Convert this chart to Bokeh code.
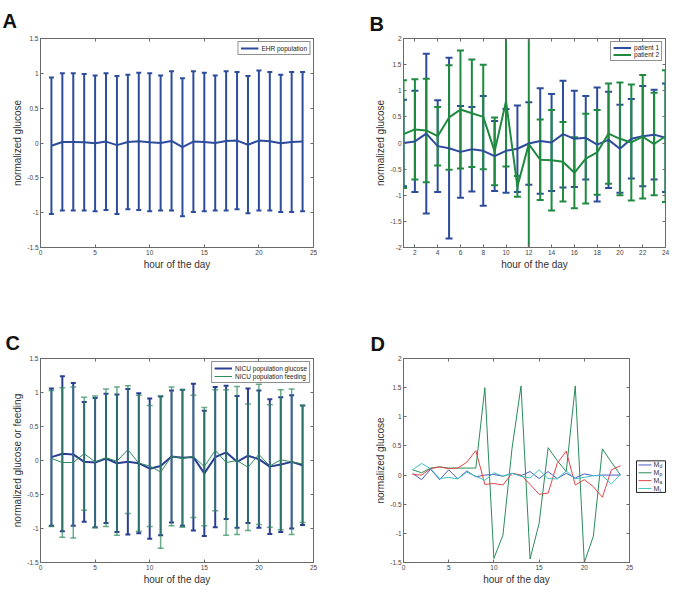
import numpy as np
from bokeh.plotting import figure
from bokeh.models import (Range1d, FixedTicker, LinearAxis, NumeralTickFormatter,
                          ColumnDataSource, CustomLabelingPolicy)
from bokeh.layouts import row, column
from bokeh.embed import file_html
from bokeh.resources import INLINE
from bokeh.core.properties import value

# ---------------- data ----------------
hours = list(range(1, 25))

# Panel A: EHR population (mean +/- error)
ehr_mean = [-0.04, 0.015, 0.015, 0.01, -0.005, 0.02, -0.03, 0.015, 0.025, 0.01, 0.0, 0.03,
            -0.06, 0.02, 0.015, 0.0, 0.03, 0.035, -0.025, 0.035, 0.025, -0.005, 0.015, 0.02]
ehr_err = [0.98, 0.985, 0.985, 0.98, 0.975, 0.98, 0.99, 0.965, 0.985, 0.99, 0.97, 1.0,
           0.99, 1.01, 0.995, 0.97, 1.0, 0.985, 0.985, 1.005, 0.995, 0.985, 1.005, 1.0]

# Panel B: two patients
p1_mean = [0.0, 0.03, 0.18, -0.06, -0.10, -0.17, -0.12, -0.15, -0.25, -0.15, -0.11, -0.01,
           0.04, 0.01, 0.17, 0.08, 0.10, -0.03, 0.06, -0.11, 0.08, 0.13, 0.16, 0.10]
p1_err = [0.83, 0.97, 1.53, 0.88, 1.73, 0.88, 0.81, 1.05, 0.67, 0.80, 0.83, 0.79,
          1.01, 0.93, 1.02, 0.92, 0.80, 1.09, 0.92, 0.84, 0.76, 0.96, 0.86, 1.04]
p2_mean = [0.17, 0.26, 0.24, 0.13, 0.49, 0.64, 0.57, 0.50, -0.16, 0.80, -0.83, -0.02,
           -0.32, -0.33, -0.36, -0.57, -0.30, -0.18, 0.18, 0.08, 0.01, 0.12, -0.02, 0.13]
p2_err = [1.03, 0.96, 0.99, 0.56, 1.00, 1.13, 1.03, 1.00, 0.65, 1.25, 0.20, 2.60,
          0.77, 0.96, 0.76, 0.68, 0.86, 0.81, 0.96, 1.08, 1.11, 1.18, 0.98, 1.26]

# Panel C: NICU population glucose / feeding
glu_mean = [0.05, 0.10, 0.09, -0.02, -0.03, 0.03, -0.04, -0.02, -0.04, -0.12, -0.08, 0.06,
            0.04, 0.05, -0.19, 0.05, 0.12, -0.02, 0.07, 0.02, -0.09, -0.06, -0.02, -0.07]
glu_err = [1.01, 1.14, 1.05, 0.88, 0.95, 0.95, 1.01, 1.07, 1.03, 1.03, 1.02, 0.97,
           1.00, 1.08, 0.92, 1.03, 0.98, 0.97, 0.99, 1.01, 0.99, 0.99, 0.98, 0.88]
feed_mean = [0.03, -0.03, -0.03, 0.10, -0.02, 0.04, -0.01, 0.16, -0.04, -0.08, -0.17, 0.06,
             0.03, 0.06, -0.09, 0.15, -0.03, 0.0, -0.10, 0.09, -0.08, 0.01, -0.02, -0.05]
feed_err = [1.00, 1.10, 1.11, 0.83, 0.97, 1.01, 1.09, 0.94, 1.00, 0.89, 1.12, 1.02,
            1.01, 0.90, 0.87, 0.89, 1.07, 1.09, 0.93, 1.03, 0.90, 1.03, 1.07, 0.86]

# Panel D: model components
m_d = [0.03, -0.08, 0.10, -0.08, 0.09, -0.065, 0.07, -0.03, 0.0, 0.01, -0.02, 0.03,
       -0.01, 0.06, -0.06, 0.06, -0.06, 0.03, -0.05, 0.02, -0.01, 0.0, 0.0, 0.0]
m_p = [0.09, 0.04, 0.12, 0.14, 0.12, 0.12, 0.12, 0.12, 1.50, -1.43, -1.03, 0.45,
       1.53, -1.44, -0.83, 0.47, 0.25, 0.06, 1.53, -1.50, -1.05, 0.45, 0.22, 0.0]
m_a = [0.01, 0.0, 0.11, 0.14, 0.11, 0.12, 0.22, 0.42, -0.16, -0.145, -0.17, 0.03,
       0.0, -0.16, -0.33, -0.31, 0.20, 0.41, -0.17, -0.08, -0.20, -0.38, 0.09, 0.16]
m_t = [0.09, 0.20, 0.11, -0.06, -0.04, -0.065, 0.05, -0.02, -0.09, 0.04, -0.02, 0.03,
       -0.02, -0.05, 0.09, -0.06, -0.065, 0.07, -0.065, -0.04, -0.01, -0.01, -0.155, 0.015]
d_subscripts = ["d", "p", "a", "t"]

ticks_0_25 = [0, 5, 10, 15, 20, 25]
ticks_even = [2, 4, 6, 8, 10, 12, 14, 16, 18, 20, 22, 24]
yt_15 = [-1.5, -1, -0.5, 0, 0.5, 1, 1.5]
yt_2 = [-2, -1.5, -1, -0.5, 0, 0.5, 1, 1.5, 2]
yt_d = [-1.5, -1, -0.5, 0, 0.5, 1, 1.5, 2]

# ---------------- style ----------------
FONT = "Liberation Sans"
AX = "#6a6a6a"
TXT = "#333333"
BLUE = "#2d4c9c"
GREEN = "#1f8a40"
C_GLU = "#2b3f92"
C_FEED = "#2f8a5c"
D_COLORS = ["#4c5cc4", "#2a8c5a", "#e04646", "#3fc2c2"]

HIDE = "return new Set()"


def style_axis(ax, labels=True):
    ax.axis_line_color = AX
    ax.major_tick_line_color = AX
    ax.major_tick_in = 3
    ax.major_tick_out = 0
    ax.minor_tick_line_color = None
    ax.major_label_text_font = FONT
    ax.major_label_text_color = "#444444"
    ax.axis_label_text_font = FONT
    ax.axis_label_text_font_size = "10px"
    ax.axis_label_text_font_style = "normal"
    ax.axis_label_text_color = TXT
    ax.axis_label_standoff = 1
    if labels:
        ax.major_label_text_font_size = "6.5px"
        ax.major_label_standoff = 2
    else:
        ax.major_label_text_font_size = "1px"
        ax.major_label_standoff = 0
        ax.major_label_policy = CustomLabelingPolicy(code=HIDE)


def make_fig(width, height, xr, yr, xticks, yticks, borders, letter, off, standoff,
             xlabel, ylabel):
    bl, br, bt, bb = borders
    p = figure(width=width, height=height, x_range=Range1d(*xr), y_range=Range1d(*yr),
               output_backend="svg", toolbar_location=None,
               min_border_left=bl, min_border_right=br, min_border_top=bt,
               min_border_bottom=bb)
    p.grid.visible = False
    p.outline_line_color = AX
    p.title.text = letter
    p.title.text_font = FONT
    p.title.text_font_size = "20px"
    p.title.text_font_style = "bold"
    p.title.text_color = "#111111"
    p.title.align = "left"
    p.title.offset = off
    p.title.standoff = standoff
    fmt = NumeralTickFormatter(format="0.[0]")
    p.xaxis.ticker = FixedTicker(ticks=xticks)
    p.yaxis.ticker = FixedTicker(ticks=yticks)
    p.xaxis.formatter = fmt
    p.yaxis.formatter = fmt
    p.xaxis.axis_label = xlabel
    p.yaxis.axis_label = ylabel
    style_axis(p.xaxis[0])
    style_axis(p.yaxis[0])
    ra = LinearAxis(ticker=FixedTicker(ticks=yticks))
    style_axis(ra, labels=False)
    p.add_layout(ra, "right")
    ta = LinearAxis(ticker=FixedTicker(ticks=xticks))
    style_axis(ta, labels=False)
    p.add_layout(ta, "above")
    return p


def errbars(p, x, mean, err, color, lw, cap, alpha=1.0):
    mean = np.asarray(mean)
    err = np.asarray(err)
    src = ColumnDataSource(dict(x=x, lo=mean - err, hi=mean + err))
    p.segment(x0="x", y0="lo", x1="x", y1="hi", source=src, line_color=color,
              line_width=lw, line_alpha=alpha)
    for col in ("hi", "lo"):
        p.scatter(x="x", y=col, marker="dash", size=cap, line_color=color,
                  line_width=lw, line_alpha=alpha, source=src)


def style_legend(p, fs="6.5px", gh=8):
    lg = p.legend[0]
    lg.location = "top_right"
    lg.label_text_font = FONT
    lg.label_text_font_size = fs
    lg.label_text_color = "#222222"
    lg.glyph_width = 18
    lg.glyph_height = gh
    lg.label_height = gh
    lg.label_standoff = 3
    lg.padding = 2
    lg.spacing = 0
    lg.margin = 3
    lg.border_line_color = "#222222"
    lg.border_line_width = 1


# ---------------- Panel A ----------------
pA = make_fig(339, 290, (0, 25), (-1.5, 1.5), ticks_0_25, yt_15, (40, 26, 38, 38),
              "A", -38, 5, "hour of the day", "normalized glucose")
errbars(pA, hours, ehr_mean, ehr_err, BLUE, 2, 5)
pA.line(hours, ehr_mean, line_color=BLUE, line_width=2, legend_label="EHR population")
style_legend(pA, "6.5px", 8)

# ---------------- Panel B ----------------
pB = make_fig(331, 290, (1, 24), (-2, 2), ticks_even, yt_2, (64, 3, 32, 43),
              "B", -34, 0, "hour of the day", "normalized glucose")
errbars(pB, hours, p1_mean, p1_err, BLUE, 2, 7)
errbars(pB, hours, p2_mean, p2_err, GREEN, 2, 7)
pB.line(hours, p1_mean, line_color=BLUE, line_width=2, legend_label="patient 1")
pB.line(hours, p2_mean, line_color=GREEN, line_width=2, legend_label="patient 2")
style_legend(pB, "6.5px", 7)

# ---------------- Panel C ----------------
pC = make_fig(339, 297, (0, 25), (-1.5, 1.5), ticks_0_25, yt_15, (40, 26, 68, 21),
              "C", -35, 1, "hour of the day", "normalized glucose or feeding")
errbars(pC, hours, glu_mean, glu_err, C_GLU, 2, 5)
pC.line(hours, glu_mean, line_color=C_GLU, line_width=2, legend_label="NICU population glucose")
errbars(pC, hours, feed_mean, feed_err, C_FEED, 1.5, 6, alpha=0.7)
pC.line(hours, feed_mean, line_color=C_FEED, line_width=1, legend_label="NICU population feeding")
style_legend(pC, "6.5px", 8)

# ---------------- Panel D ----------------
pD = make_fig(295, 297, (0, 25), (-1.5, 2), ticks_0_25, yt_d, (64, 3, 67, 21),
              "D", -33, 0, "hour of the day", "normalized glucose")
for series, col in zip([m_d, m_p, m_a, m_t], D_COLORS):
    pD.line(hours, series, line_color=col, line_width=1)

# legend for D (outside the axes, with subscripted labels)
lgD = figure(width=36, height=297, x_range=Range1d(0, 36), y_range=Range1d(297, 0),
             output_backend="svg", toolbar_location=None, min_border=0,
             x_axis_type=None, y_axis_type=None)
lgD.outline_line_color = None
lgD.grid.visible = False
box_top, box_bot = 149, 195
lgD.quad(left=[2], right=[31], top=[box_top], bottom=[box_bot], fill_color="white",
         line_color="#222222", line_width=1)
row_y = [box_top + 6 + 11.4 * i for i in range(4)]
lgD.segment(x0=[4] * 4, x1=[17] * 4, y0=row_y, y1=row_y, line_color=D_COLORS, line_width=1)
lgD.text(x=[19] * 4, y=row_y, text=["M"] * 4, text_font=value(FONT), text_font_size="7px",
         text_baseline="middle", text_color="#333333")
lgD.text(x=[25] * 4, y=[v + 2 for v in row_y], text=d_subscripts, text_font=value(FONT),
         text_font_size="5px", text_baseline="middle", text_color="#333333")

layout = column(row(pA, pB), row(pC, pD, lgD))
open("out.html", "w").write(file_html(layout, INLINE))
